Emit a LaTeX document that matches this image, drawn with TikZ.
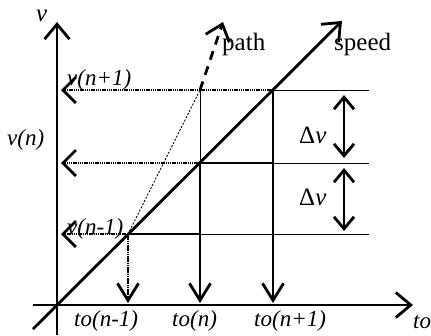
\documentclass[tikz,border=0pt]{standalone}
\usepackage{fontspec}
\setmainfont{Liberation Serif}
\usetikzlibrary{arrows.meta}
\begin{document}
\begin{tikzpicture}[x=1pt,y=-1pt,
  thickl/.style={line width=2.8pt},
  thinl/.style={line width=1pt},
  dotl/.style={line width=2.8pt, dash pattern=on 1.5pt off 0.7pt},
  axtip/.style={-{Straight Barb[length=15pt,width=25pt,line width=2.8pt]}},
  downtip/.style={-{Straight Barb[length=17pt,width=21pt,line width=2.8pt]}},
  lefttip/.style={-{Straight Barb[length=13pt,width=26pt,line width=2.8pt]}},
  dvtip/.style={{Straight Barb[length=12pt,width=20pt,line width=2.8pt]}-{Straight Barb[length=12pt,width=20pt,line width=2.8pt]}},
  itlab/.style={inner sep=0pt, anchor=base west, font=\fontsize{23}{26}\selectfont\itshape},
  uplab/.style={inner sep=0pt, anchor=base west, font=\fontsize{25}{28}\selectfont}
]
\useasboundingbox (0,0) rectangle (431,335);
% coordinates
\coordinate (O) at (57,305);
\coordinate (Ytop) at (57,22);
\coordinate (Ybot) at (57,335);
\coordinate (Xl) at (33,305);
\coordinate (Xr) at (413,305);
\coordinate (S0) at (33,329);
\coordinate (S1) at (342,21);
\coordinate (A) at (128,234);
\coordinate (B) at (200,163);
\coordinate (C) at (273,90);
\coordinate (P) at (200,90);
\coordinate (Pt) at (223,22);
\coordinate (LA) at (61,234);
\coordinate (LB) at (61,163);
\coordinate (LC) at (61,90);
\coordinate (DA) at (128,303);
\coordinate (DB) at (200,303);
\coordinate (DC) at (273,303);
\coordinate (RA) at (369,234);
\coordinate (RB) at (369,163);
\coordinate (RC) at (369,90);
\coordinate (BA) at (200,234);
\coordinate (CB) at (273,163);
\coordinate (D1t) at (344,95);
\coordinate (D1b) at (344,158);
\coordinate (D2t) at (344,168);
\coordinate (D2b) at (344,231);
% axes
\draw[thickl,axtip] (Ybot) -- (Ytop);
\draw[thickl,axtip] (Xl) -- (Xr);
% speed line
\draw[thickl,axtip] (S0) -- (S1);
% thin horizontal lines
\draw[thinl] (C) -- (RC);
\draw[thinl] (CB) -- (RB);
\draw[thinl] (BA) -- (RA);
\draw[thinl] (P) -- (B);
% thick segments
\draw[thickl] (A) -- (BA);
\draw[thickl] (B) -- (CB);
% down arrows
\draw[dotl,downtip] (A) -- (DA);
\draw[thickl,downtip] (B) -- (DB);
\draw[thickl,downtip] (C) -- (DC);
% left dotted arrows
\draw[dotl,lefttip] (A) -- (LA);
\draw[dotl,lefttip] (B) -- (LB);
\draw[dotl,lefttip] (C) -- (LC);
% path
\draw[line width=0.9pt, dash pattern=on 2pt off 1.6pt] (A) -- (P);
\draw[thickl, dash pattern=on 9pt off 7pt, axtip] (P) -- (Pt);
% delta v arrows
\draw[thickl,dvtip] (D1t) -- (D1b);
\draw[thickl,dvtip] (D2t) -- (D2b);
% labels
\node[itlab, font=\fontsize{25}{28}\selectfont\itshape] (lv) at (36,21) {v};
\node[itlab] (lvn1) at (67,85) {v(n+1)};
\node[itlab] (lvn) at (7,145) {v(n)};
\node[itlab] (lvm1) at (67,234) {v(n-1)};
\node[uplab] (lpath) at (222,50) {path};
\node[uplab] (lspeed) at (334,50) {speed};
\node[uplab] (ldv1) at (299,143) {Δ\textit{ν}};
\node[uplab] (ldv2) at (299,205) {Δ\textit{ν}};
\node[itlab] (lt1) at (74,326) {to(n-1)};
\node[itlab] (lt2) at (172,326) {to(n)};
\node[itlab] (lt3) at (254,326) {to(n+1)};
\node[itlab] (lt4) at (413,328) {to};
\end{tikzpicture}
\end{document}
